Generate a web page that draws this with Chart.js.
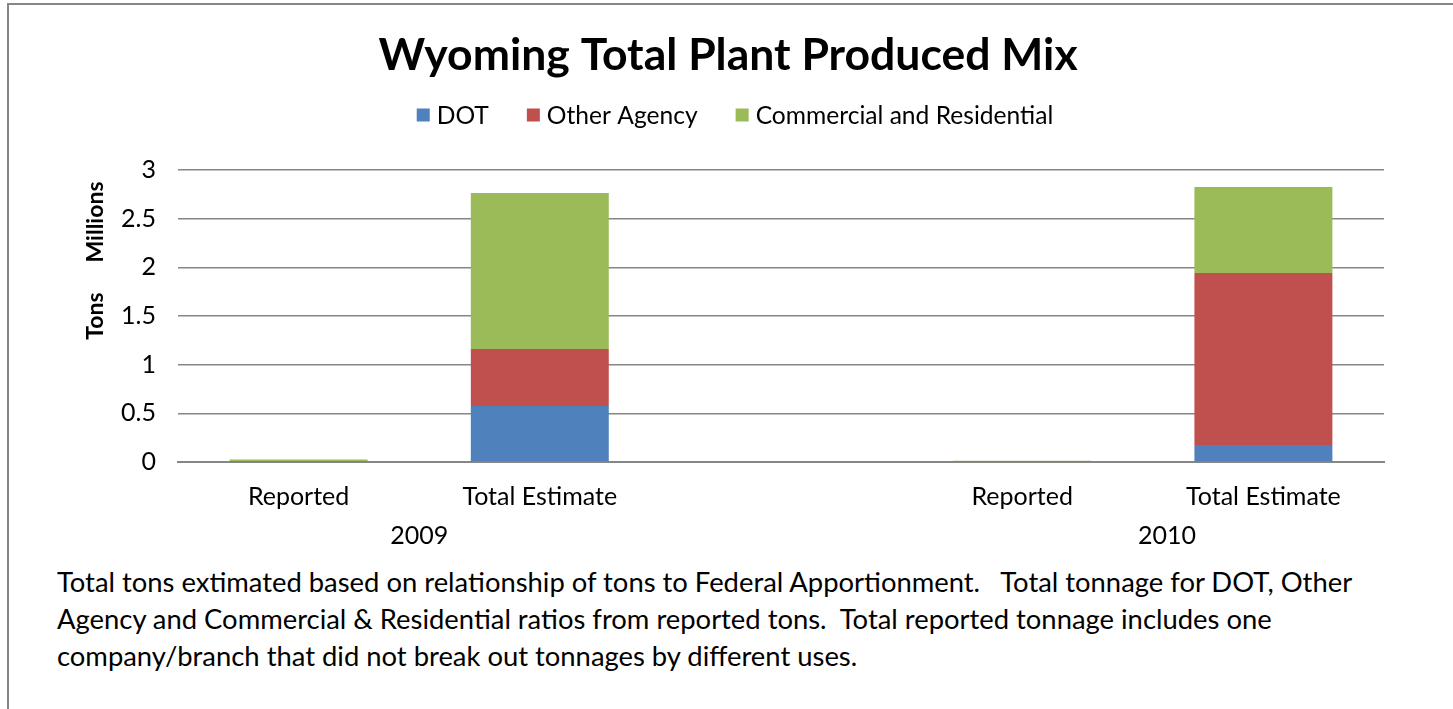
<!DOCTYPE html>
<html>
<head>
<meta charset="utf-8">
<title>Wyoming Total Plant Produced Mix</title>
<script src="https://cdn.jsdelivr.net/npm/chart.js@4/dist/chart.umd.min.js"></script>
<style>
  html, body { margin: 0; padding: 0; background: #fff; overflow: hidden; }
  body { width: 1453px; height: 709px; position: relative; font-family: Lato, "Open Sans", sans-serif; }
  .frame { position: absolute; left: 7px; top: 3px; width: 1500px; height: 760px; border: 2px solid #868686; box-sizing: border-box; }
  #mix { position: absolute; left: 0; top: 0; }
  .note { position: absolute; left: 57px; top: 563px; font-size: 27.4px; line-height: 37px; color: #000; white-space: nowrap; }
</style>
</head>
<body>
<div class="frame"></div>
<canvas id="mix" width="1453" height="560"></canvas>
<div class="note">
  Total tons extimated based on relationship of tons to Federal Apportionment.&nbsp;&nbsp; Total tonnage for DOT, Other<br>
  Agency and Commercial &amp; Residential ratios from reported tons.&nbsp; Total reported tonnage includes one<br>
  company/branch that did not break out tonnages by different uses.
</div>
<script>
// categories (blank slot separates the two years)
const categories = ['Reported', 'Total Estimate', '', 'Reported', 'Total Estimate'];
const years = ['2009', '2010'];
const yearAnchors = [0.5, 3.6];

// tons, millions
const dotTons = [0.004, 0.575, null, 0.002, 0.175];
const otherAgencyTons = [0.004, 0.586, null, 0.002, 1.767];
const commercialTons = [0.018, 1.603, null, 0.008, 0.883];

const TITLE = 'Wyoming Total Plant Produced Mix';
const FONT = 'Lato, "Open Sans", sans-serif';

// title + legend row drawn by hand, centred on the frame rather than the plot
const header = {
    id: 'header',
    afterDraw(chart) {
        const ctx = chart.ctx;
        ctx.save();
        ctx.fillStyle = '#000';
        ctx.font = `bold 44.5px ${FONT}`;
        ctx.textAlign = 'center';
        ctx.textBaseline = 'middle';
        ctx.fillText(TITLE, 728, 56);

        const sets = chart.data.datasets;
        const box = 13, gap = 7, spacing = 38;
        ctx.font = `24.6px ${FONT}`;
        ctx.textAlign = 'left';
        const widths = sets.map(ds => box + gap + ctx.measureText(ds.label).width);
        const total = widths.reduce((a, b) => a + b, 0) + spacing * (sets.length - 1);
        let x = 735 - total / 2;
        const y = 115;
        sets.forEach((ds, i) => {
            ctx.fillStyle = ds.backgroundColor;
            ctx.fillRect(x, y - box / 2, box, box);
            ctx.fillStyle = '#000';
            ctx.fillText(ds.label, x + box + gap, y + 1);
            x += widths[i] + spacing;
        });
        ctx.restore();
    }
};

// year labels under the categories + split axis title
const extraLabels = {
    id: 'extraLabels',
    afterDraw(chart) {
        const { ctx, scales: { x } } = chart;
        ctx.save();
        ctx.fillStyle = '#000';
        ctx.font = `25px ${FONT}`;
        ctx.textAlign = 'center';
        ctx.textBaseline = 'middle';
        years.forEach((y, i) => {
            ctx.fillText(y, x.getPixelForValue(yearAnchors[i]), 536);
        });

        ctx.font = `bold 23px ${FONT}`;
        ctx.translate(96, 0);
        ctx.rotate(-Math.PI / 2);
        ctx.fillText('Tons', -316, 0);
        ctx.fillText('Millions', -222, 0);
        ctx.restore();
    }
};

new Chart(document.getElementById('mix'), {
    type: 'bar',
    data: {
        labels: categories,
        datasets: [
            { label: 'DOT', data: dotTons, backgroundColor: '#4F81BD' },
            { label: 'Other Agency', data: otherAgencyTons, backgroundColor: '#C0504D' },
            { label: 'Commercial and Residential', data: commercialTons, backgroundColor: '#9BBB59' }
        ]
    },
    options: {
        responsive: false,
        animation: false,
        layout: { padding: { left: 0, right: 69, top: 170, bottom: 0 } },
        datasets: { bar: { barPercentage: 0.572, categoryPercentage: 1 } },
        plugins: {
            title: { display: false },
            legend: { display: false },
            tooltip: { enabled: false }
        },
        scales: {
            x: {
                stacked: true,
                grid: { display: false },
                border: { color: '#868686', width: 2 },
                ticks: { color: '#000', padding: 12, maxRotation: 0, font: { family: FONT, size: 25 } },
                afterFit(scale) { scale.height = 98; }
            },
            y: {
                stacked: true,
                min: 0,
                max: 3,
                ticks: {
                    stepSize: 0.5,
                    color: '#000',
                    padding: 22,
                    font: { family: FONT, size: 25 },
                    callback: v => String(v)
                },
                grid: { color: '#868686', lineWidth: 1.5, drawTicks: false },
                border: { display: false },
                afterFit(scale) { scale.width = 178; }
            }
        }
    },
    plugins: [header, extraLabels]
});
</script>
</body>
</html>
